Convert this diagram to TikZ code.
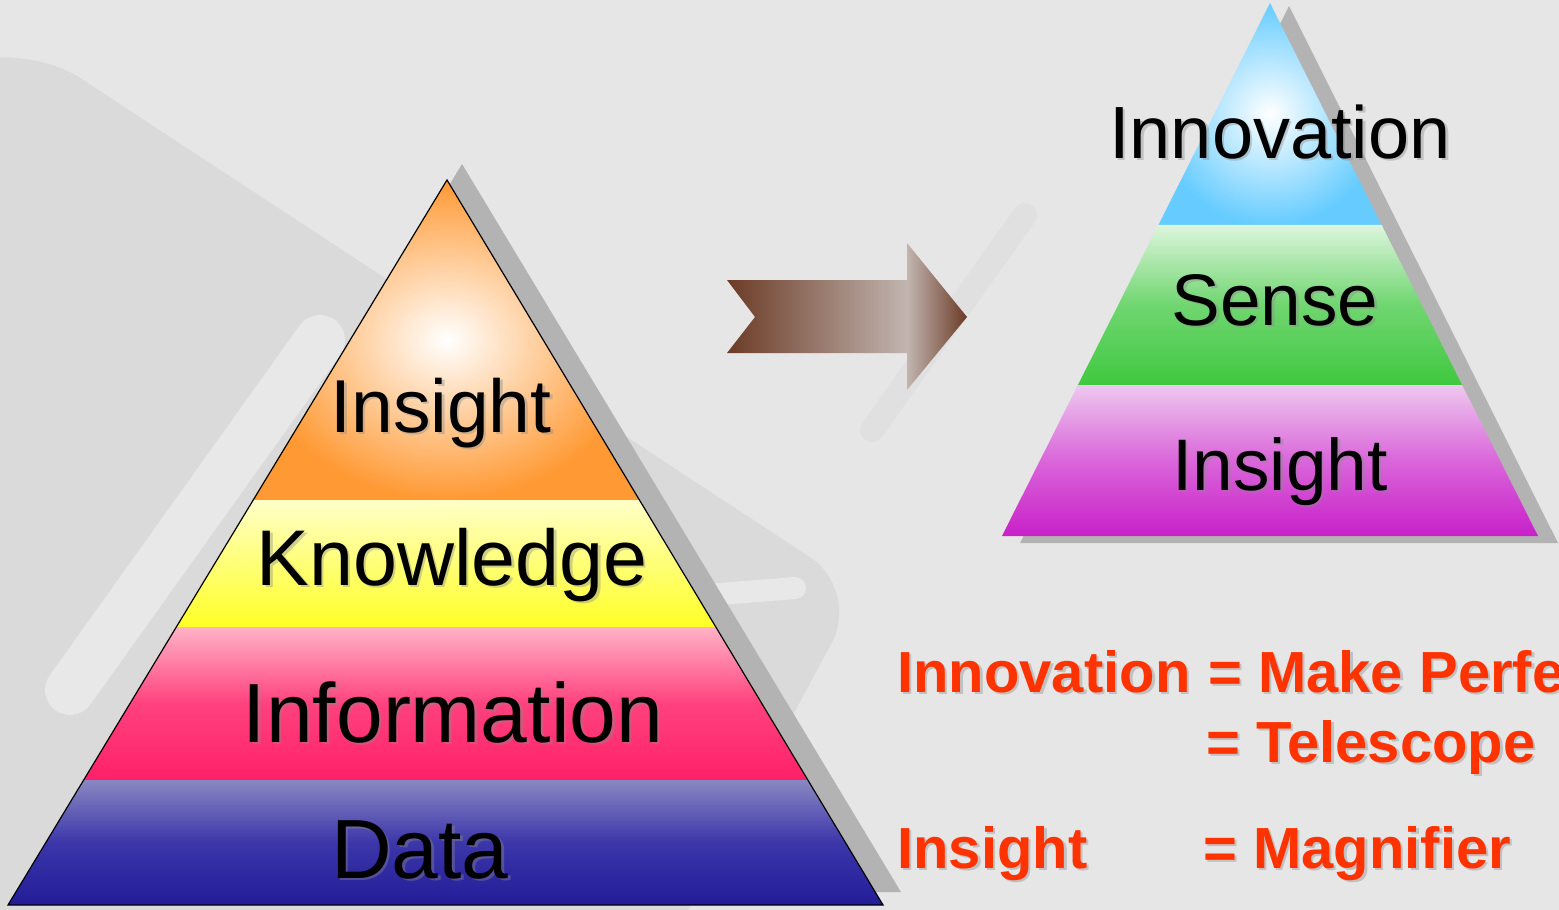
\documentclass[tikz,border=0pt]{standalone}
\usepackage{fontspec}
\setmainfont{Liberation Sans}
\usetikzlibrary{calc}

\definecolor{bgGray}{HTML}{E6E6E6}
\definecolor{wmDark}{HTML}{DADADA}
\definecolor{wmSoft}{HTML}{E0E0E0}
\definecolor{wmLight}{HTML}{E8E8E8}
\definecolor{shadowGray}{HTML}{B3B3B3}
\definecolor{txtShadow}{HTML}{8A8A8A}
\definecolor{insOrange}{HTML}{FF9933}
\definecolor{knowTop}{HTML}{FFFFC8}
\definecolor{knowYellow}{HTML}{FFFF26}
\definecolor{infTop}{HTML}{FFB3C6}
\definecolor{infPink}{HTML}{FF2068}
\definecolor{datTop}{HTML}{8A88C2}
\definecolor{datMid}{HTML}{3C36AA}
\definecolor{datBlue}{HTML}{221C98}
\definecolor{innBlue}{HTML}{66CCFF}
\definecolor{senTop}{HTML}{DDF5DD}
\definecolor{senMid}{HTML}{70D670}
\definecolor{senGreen}{HTML}{40C840}
\definecolor{sigTop}{HTML}{EEC8EE}
\definecolor{sigMid}{HTML}{DA66DA}
\definecolor{sigMag}{HTML}{C820C8}
\definecolor{arrowBrown}{HTML}{6B3B26}
\definecolor{arrowPale}{HTML}{C2B5B0}
\definecolor{eqRed}{HTML}{FF3300}

% text with a soft drop shadow: name, position, style, text
\newcommand\droptext[4]{%
  \node[#3, text=txtShadow, opacity=0.4, xshift=2.5pt, yshift=-2.5pt] at (#2) {#4};
  \node[#3] (#1) at (#2) {#4};}

\begin{document}
\begin{tikzpicture}[x=1pt, y=-1pt,
    lbl/.style={anchor=base, inner sep=0pt, font=\fontsize{#1}{#1}\selectfont},
    eqn/.style={anchor=base west, inner sep=0pt, text=eqRed,
                font=\bfseries\fontsize{58}{58}\selectfont},
    outline/.style={draw=black, line width=1.2pt},
]

% ===== Canvas =====
\useasboundingbox (0,0) rectangle (1559,910);
\clip (0,0) rectangle (1559,910);
\fill[bgGray] (0,0) rectangle (1559,910);

% ===== Watermark =====
\fill[wmDark, rounded corners=60] (-60,70) -- (30,45) -- (860,590) -- (640,1000) -- (-60,1000) -- cycle;
\draw[wmLight, line width=50, line cap=round] (70,690) -- (320,340);
\draw[wmLight, line width=22, line cap=round] (620,602) -- (795,588);
\draw[wmSoft, line width=24, line cap=round] (872,430) -- (1025,215);

% ===== Left pyramid =====
\coordinate (Ltop) at (447,180);
\coordinate (Lbl) at (8,905);
\coordinate (Lbr) at (883,905);
\foreach \f/\n in {0.4414/1, 0.6166/2, 0.8276/3} {
  \coordinate (Ll\n) at ($(Ltop)!\f!(Lbl)$);
  \coordinate (Lr\n) at ($(Ltop)!\f!(Lbr)$);
}
\fill[shadowGray] (462,164) -- (901,892) -- (23,892) -- cycle;
\shade[inner color=white, outer color=insOrange] (Ltop) -- (Lr1) -- (Ll1) -- cycle;
\shade[top color=knowTop, bottom color=knowYellow] (Ll1) -- (Lr1) -- (Lr2) -- (Ll2) -- cycle;
\shade[top color=infTop, bottom color=infPink, middle color=infPink!85!white] (Ll2) -- (Lr2) -- (Lr3) -- (Ll3) -- cycle;
\shade[top color=datTop, bottom color=datBlue, middle color=datMid] (Ll3) -- (Lr3) -- (Lbr) -- (Lbl) -- cycle;
\draw[outline] (Ltop) -- (Lbl) -- (Lbr) -- cycle;

% ===== Arrow =====
\shade[left color=arrowBrown, middle color=white, right color=arrowPale]
  (727,280) -- (907,280) -- (907,353) -- (727,353) -- (755,317) -- cycle;
\shade[left color=arrowPale, right color=arrowBrown] (907,243) -- (967,317) -- (907,390) -- cycle;

% ===== Right pyramid =====
\coordinate (Rtop) at (1270,3);
\coordinate (Rbl) at (1002,536);
\coordinate (Rbr) at (1538,536);
\foreach \f/\n in {0.4165/1, 0.7167/2} {
  \coordinate (Rl\n) at ($(Rtop)!\f!(Rbl)$);
  \coordinate (Rr\n) at ($(Rtop)!\f!(Rbr)$);
}
\fill[shadowGray] (1289,6) -- (1558,543) -- (1020,543) -- cycle;
\shade[inner color=white, outer color=innBlue] (Rtop) -- (Rr1) -- (Rl1) -- cycle;
\shade[top color=senTop, bottom color=senGreen, middle color=senMid] (Rl1) -- (Rr1) -- (Rr2) -- (Rl2) -- cycle;
\shade[top color=sigTop, bottom color=sigMag, middle color=sigMid] (Rl2) -- (Rr2) -- (Rbr) -- (Rbl) -- cycle;

% ===== Layer labels =====
\droptext{insL}{441,432}{lbl=75}{Insight}
\droptext{know}{452,585}{lbl=79}{Knowledge}
\droptext{info}{453,742}{lbl=84}{Information}
\droptext{data}{420,878}{lbl=84}{Data}
\droptext{innov}{1280,158}{lbl=74}{Innovation}
\droptext{sense}{1275,325}{lbl=73}{Sense}
\droptext{insR}{1280,490}{lbl=73}{Insight}

% ===== Equations =====
\droptext{eqInnov}{897,692}{eqn}{Innovation}
\droptext{eqPerf}{1208,692}{eqn}{= Make Perfe}
\droptext{eqTele}{1206,762}{eqn}{= Telescope}
\droptext{eqIns}{897,868}{eqn}{Insight}
\droptext{eqMagn}{1203,868}{eqn}{= Magnifier}

\end{tikzpicture}
\end{document}
